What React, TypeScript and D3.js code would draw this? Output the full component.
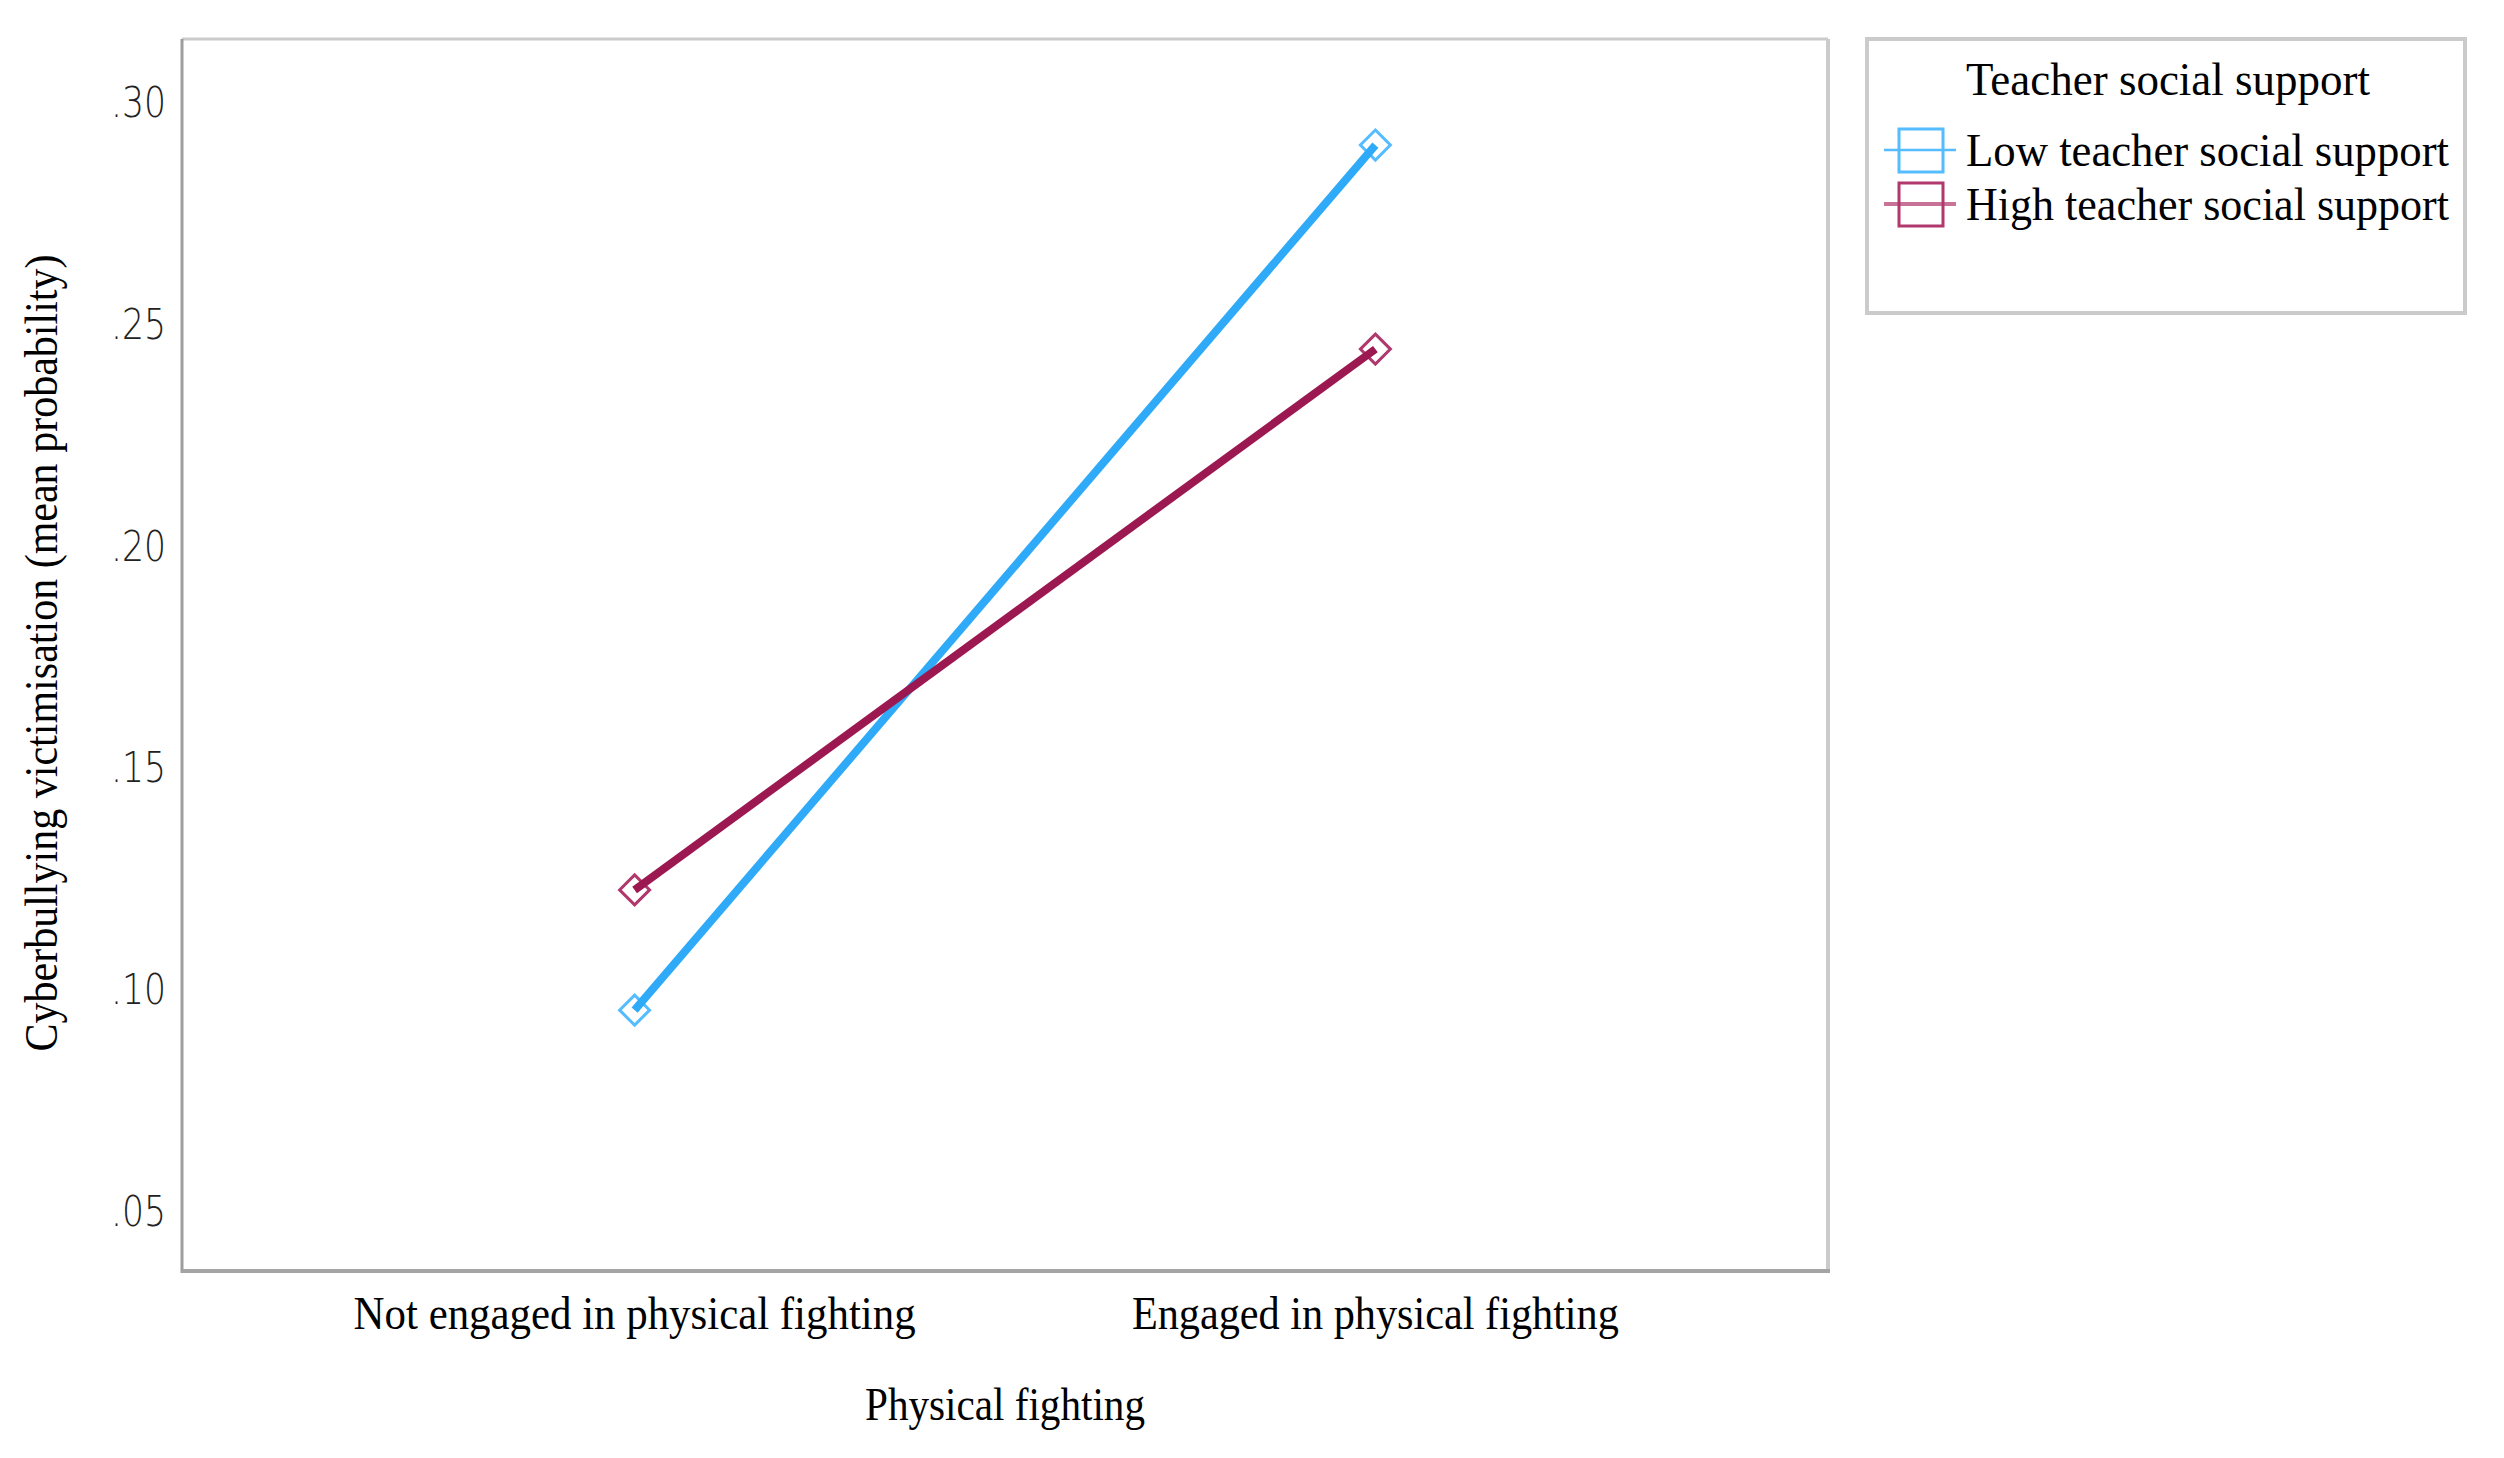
import * as d3 from "d3";

// categories on the x axis
const categories = ["Not engaged in physical fighting", "Engaged in physical fighting"];
// series
const seriesNames = ["Low teacher social support", "High teacher social support"];
const lowValues = [0.0953, 0.2903];
const highValues = [0.1224, 0.2443];
const yTicks = [0.05, 0.1, 0.15, 0.2, 0.25, 0.3];
const yTickLabels = [".05", ".10", ".15", ".20", ".25", ".30"];

const W = 2504;
const H = 1458;
const plot = { left: 182, top: 39, right: 1828, bottom: 1271 };
const serif = "'Liberation Serif', 'Times New Roman', serif";

const colors = ["#2eaaf8", "#9c1850"];
const markerColors = ["#55bcff", "#b0386c"];

const App = () => {
  const x = d3
    .scalePoint<string>()
    .domain(categories)
    .range([plot.left, plot.right])
    .padding(0.611);

  const y = d3.scaleLinear().domain([0.0365, 0.3142]).range([plot.bottom, plot.top]);

  const line = d3
    .line<number>()
    .x((_, i) => x(categories[i]) as number)
    .y((d) => y(d));

  const series = [lowValues, highValues];
  const catWidths = [562, 487];
  const diamond = (cx: number, cy: number, r: number) =>
    `M${cx},${cy - r}L${cx + r},${cy}L${cx},${cy + r}L${cx - r},${cy}Z`;

  return (
    <svg width={W} height={H} style={{ position: "absolute", left: 0, top: 0, background: "#fff" }}>
      {/* frame */}
      <line x1={plot.left} x2={plot.right} y1={plot.top} y2={plot.top} stroke="#cbcbcb" strokeWidth={3} />
      <line x1={plot.right} x2={plot.right} y1={plot.top} y2={plot.bottom} stroke="#cbcbcb" strokeWidth={4} />
      <line x1={plot.left} x2={plot.left} y1={plot.top} y2={plot.bottom + 2} stroke="#9e9e9e" strokeWidth={3} />
      <line x1={plot.left} x2={plot.right + 2} y1={plot.bottom} y2={plot.bottom} stroke="#a4a4a4" strokeWidth={4} />

      {/* y ticks */}
      {yTicks.map((t, i) => (
        <text
          key={t}
          x={166}
          y={y(t) + 15}
          textAnchor="end"
          fontFamily="'DejaVu Sans', sans-serif"
          fontSize={42}
          fontWeight={300}
          fill="#222"
          textLength={55}
          lengthAdjust="spacingAndGlyphs"
        >
          {yTickLabels[i]}
        </text>
      ))}

      {/* x category labels */}
      {categories.map((c, i) => (
        <text
          key={c}
          x={x(c)}
          y={1329}
          textAnchor="middle"
          fontFamily={serif}
          fontSize={47}
          fill="#000"
          textLength={catWidths[i]}
          lengthAdjust="spacingAndGlyphs"
        >
          {c}
        </text>
      ))}

      {/* axis titles */}
      <text
        x={(plot.left + plot.right) / 2}
        y={1420}
        textAnchor="middle"
        fontFamily={serif}
        fontSize={47}
        textLength={280}
        lengthAdjust="spacingAndGlyphs"
      >
        Physical fighting
      </text>
      <text
        transform="translate(57,653) rotate(-90)"
        textAnchor="middle"
        fontFamily={serif}
        fontSize={46}
        textLength={797}
        lengthAdjust="spacingAndGlyphs"
      >
        Cyberbullying victimisation (mean probability)
      </text>

      {/* lines and markers */}
      {series.map((vals, s) => (
        <g key={s}>
          {vals.map((v, i) => (
            <path
              key={i}
              d={diamond(x(categories[i]) as number, y(v), 15)}
              fill="none"
              stroke={markerColors[s]}
              strokeWidth={3}
            />
          ))}
          <path d={line(vals) ?? ""} fill="none" stroke={colors[s]} strokeWidth={8} />
        </g>
      ))}

      {/* legend */}
      <rect x={1867} y={39} width={598} height={274} fill="#fff" stroke="#cbcbcb" strokeWidth={4} />
      <text
        x={2168}
        y={95}
        textAnchor="middle"
        fontFamily={serif}
        fontSize={46}
        textLength={404}
        lengthAdjust="spacingAndGlyphs"
      >
        Teacher social support
      </text>
      {seriesNames.map((n, i) => {
        const cy = 150 + i * 54;
        return (
          <g key={n}>
            <rect x={1899} y={cy - 21} width={44} height={43} fill="none" stroke={markerColors[i]} strokeWidth={3} />
            <line x1={1884} x2={1956} y1={cy} y2={cy} stroke={markerColors[i]} strokeWidth={i === 0 ? 2.5 : 4} opacity={i === 0 ? 1 : 0.7} />
            <text
              x={1966}
              y={cy + 16}
              fontFamily={serif}
              fontSize={46}
              textLength={483}
              lengthAdjust="spacingAndGlyphs"
            >
              {n}
            </text>
          </g>
        );
      })}
    </svg>
  );
};

export default App;
